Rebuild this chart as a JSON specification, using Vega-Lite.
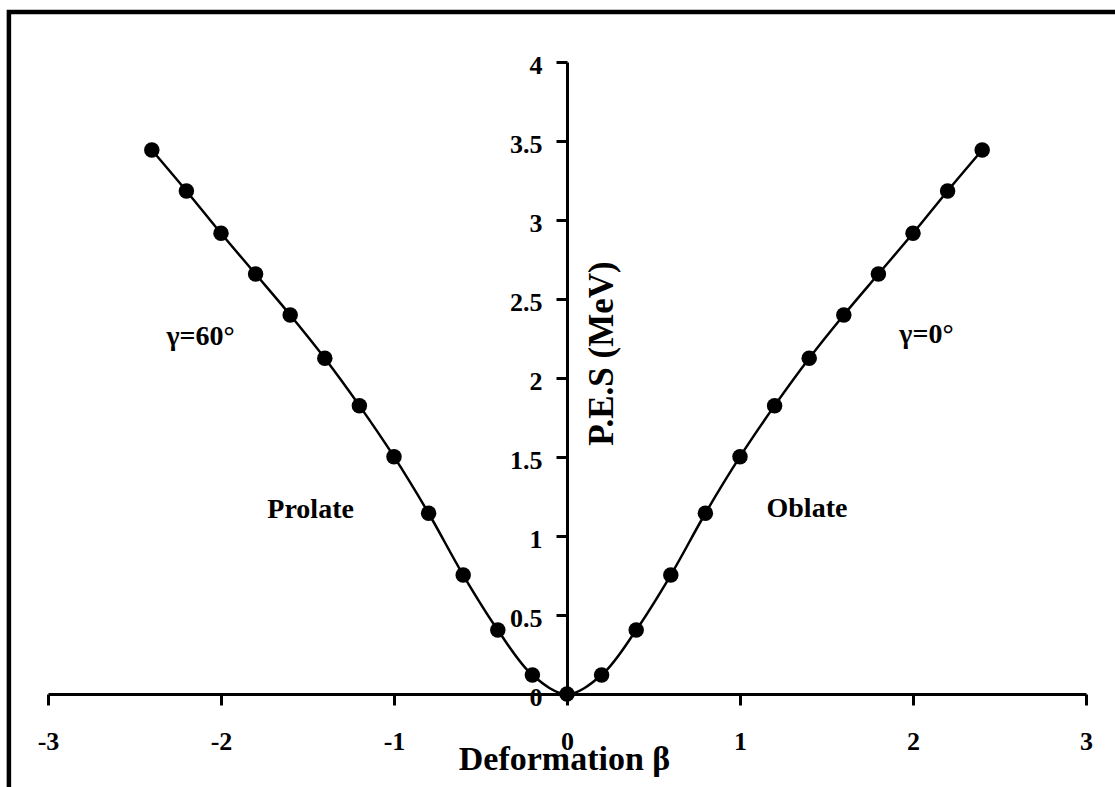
{
  "$schema": "https://vega.github.io/schema/vega-lite/v6.json",
  "width": 1038,
  "height": 632,
  "autosize": {"type": "none"},
  "padding": {"left": 48, "top": 62, "right": 29, "bottom": 93},
  "background": "white",
  "config": {
    "view": {"stroke": null},
    "font": "Liberation Serif"
  },
  "datasets": {
    "pes": [
      {"beta": -2.4, "E": 3.443},
      {"beta": -2.2, "E": 3.184},
      {"beta": -2.0, "E": 2.916},
      {"beta": -1.8, "E": 2.658},
      {"beta": -1.6, "E": 2.399},
      {"beta": -1.4, "E": 2.125},
      {"beta": -1.2, "E": 1.825},
      {"beta": -1.0, "E": 1.502},
      {"beta": -0.8, "E": 1.144},
      {"beta": -0.6, "E": 0.753},
      {"beta": -0.4, "E": 0.405},
      {"beta": -0.2, "E": 0.12},
      {"beta": 0.0, "E": 0.0},
      {"beta": 0.2, "E": 0.12},
      {"beta": 0.4, "E": 0.405},
      {"beta": 0.6, "E": 0.753},
      {"beta": 0.8, "E": 1.144},
      {"beta": 1.0, "E": 1.502},
      {"beta": 1.2, "E": 1.825},
      {"beta": 1.4, "E": 2.125},
      {"beta": 1.6, "E": 2.399},
      {"beta": 1.8, "E": 2.658},
      {"beta": 2.0, "E": 2.916},
      {"beta": 2.2, "E": 3.184},
      {"beta": 2.4, "E": 3.443}
    ],
    "labels": [
      {"beta": -2.118, "E": 2.26, "label": "γ=60°"},
      {"beta": 2.078, "E": 2.27, "label": "γ=0°"},
      {"beta": -1.482, "E": 1.165, "label": "Prolate"},
      {"beta": 1.387, "E": 1.171, "label": "Oblate"}
    ],
    "frame": [{}]
  },
  "layer": [
    {
      "data": {"name": "frame"},
      "mark": {"type": "rect", "fill": "transparent", "stroke": "black", "strokeWidth": 4.5, "clip": false},
      "encoding": {
        "x": {"datum": -3.226, "type": "quantitative"},
        "x2": {"datum": 4.5},
        "y": {"datum": 4.316, "type": "quantitative"},
        "y2": {"datum": -1}
      }
    },
    {
      "data": {"name": "pes"},
      "mark": {"type": "line", "color": "black", "strokeWidth": 2.5, "interpolate": "catmull-rom"},
      "encoding": {
        "x": {
          "field": "beta", "type": "quantitative",
          "scale": {"domain": [-3, 3], "nice": false, "zero": false},
          "axis": {
            "title": "Deformation β",
            "titleFont": "Liberation Serif", "titleFontSize": 34, "titleFontWeight": "bold", "titleColor": "black",
            "titleX": 516, "titleY": 75, "titleAlign": "center", "titleBaseline": "alphabetic",
            "values": [-3, -2, -1, 0, 1, 2, 3],
            "labelExpr": "'' + datum.value",
            "labelFont": "Liberation Serif", "labelFontSize": 26, "labelFontWeight": "bold", "labelColor": "black",
            "labelPadding": 23, "labelOverlap": false, "labelFlush": false,
            "domainColor": "black", "domainWidth": 3,
            "tickColor": "black", "tickWidth": 3, "tickSize": 11,
            "grid": false
          }
        },
        "y": {
          "field": "E", "type": "quantitative",
          "scale": {"domain": [0, 4], "nice": false},
          "axis": {
            "title": "P.E.S (MeV)",
            "titleFont": "Liberation Serif", "titleFontSize": 35, "titleFontWeight": "bold", "titleColor": "black",
            "titleAngle": -90, "titleX": 34, "titleY": 291, "titleAlign": "center", "titleBaseline": "middle",
            "offset": -519,
            "values": [0, 0.5, 1, 1.5, 2, 2.5, 3, 3.5, 4],
            "labelExpr": "'' + datum.value",
            "labelFont": "Liberation Serif", "labelFontSize": 26, "labelFontWeight": "bold", "labelColor": "black",
            "labelPadding": 14, "labelOverlap": false, "labelFlush": false, "labelOffset": 3,
            "domainColor": "black", "domainWidth": 3,
            "tickColor": "black", "tickWidth": 3, "tickSize": 11,
            "grid": false
          }
        }
      }
    },
    {
      "data": {"name": "pes"},
      "mark": {"type": "point", "filled": true, "color": "black", "size": 240, "opacity": 1, "shape": "circle"},
      "encoding": {
        "x": {"field": "beta", "type": "quantitative"},
        "y": {"field": "E", "type": "quantitative"}
      }
    },
    {
      "data": {"name": "labels"},
      "mark": {"type": "text", "font": "Liberation Serif", "fontSize": 28, "fontWeight": "bold", "color": "black", "align": "center", "baseline": "middle"},
      "encoding": {
        "x": {"field": "beta", "type": "quantitative"},
        "y": {"field": "E", "type": "quantitative"},
        "text": {"field": "label"}
      }
    }
  ]
}
